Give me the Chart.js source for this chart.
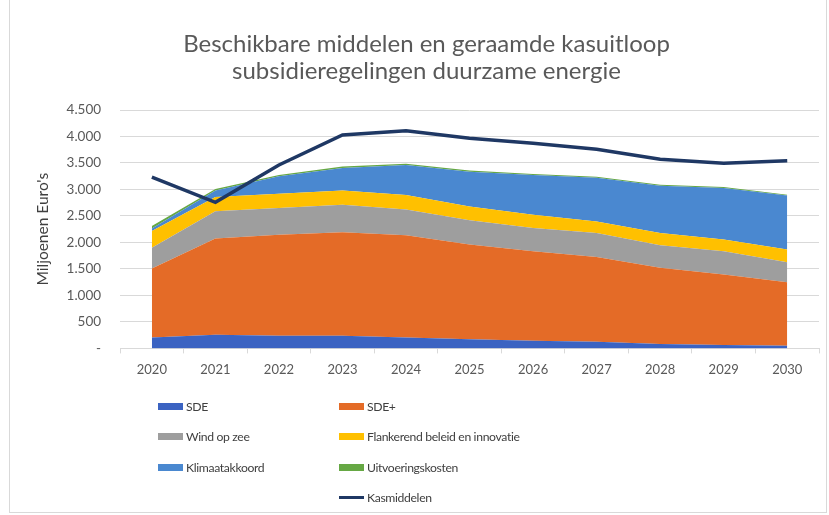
<!DOCTYPE html>
<html>
<head>
<meta charset="utf-8">
<script src="https://cdn.jsdelivr.net/npm/chart.js@4"></script>
<style>
    body { margin: 0; background: #fff; }
    #wrap { position: relative; width: 829px; height: 515px; }
    #kader { position: absolute; left: 9px; top: -1px; width: 818px; height: 514px; border: 1px solid #d9d9d9; box-sizing: border-box; }
    #legenda { position: absolute; left: 0; top: 0; font-family: Lato, sans-serif; font-size: 12.2px; letter-spacing: -0.35px; color: #404040; }
    .item { position: absolute; white-space: nowrap; line-height: 16px; }
    .item span.box { display: inline-block; width: 25px; height: 7px; margin-right: 3px; vertical-align: 1px; }
</style>
</head>
<body>
<div id="wrap">
    <div id="kader"></div>
    <canvas id="grafiek" width="829" height="515"></canvas>
    <div id="legenda"></div>
</div>
<script>
// jaren
const jaren = ['2020', '2021', '2022', '2023', '2024', '2025', '2026', '2027', '2028', '2029', '2030'];

// miljoenen euro's
const sde = [207, 256, 237, 237, 207, 175, 143, 124, 81, 62, 50];
const sdePlus = [1300, 1820, 1910, 1955, 1930, 1785, 1690, 1600, 1440, 1335, 1200];
const windOpZee = [395, 513, 501, 521, 483, 457, 440, 455, 425, 438, 376];
const flankerend = [312, 270, 270, 269, 276, 263, 250, 215, 233, 220, 239];
const klimaatakkoord = [50, 120, 330, 425, 565, 655, 750, 825, 890, 975, 1020];
const uitvoeringskosten = [45, 30, 25, 25, 25, 22, 20, 20, 18, 16, 15];
const kasmiddelen = [3234, 2757, 3463, 4029, 4110, 3967, 3873, 3760, 3572, 3497, 3540];

function vlak(label, data, kleur, fill) {
    return {
        label: label,
        data: data,
        stack: 'middelen',
        backgroundColor: kleur,
        borderColor: kleur,
        borderWidth: 0,
        pointRadius: 0,
        fill: fill,
        tension: 0
    };
}

const datasets = [{
    label: 'Kasmiddelen',
    data: kasmiddelen,
    stack: 'kas',
    borderColor: '#1f3864',
    backgroundColor: '#1f3864',
    borderWidth: 3.5,
    pointRadius: 0,
    fill: false,
    tension: 0
},
    vlak('SDE', sde, '#3b63c2', 'origin'),
    vlak('SDE+', sdePlus, '#e46b27', '-1'),
    vlak('Wind op zee', windOpZee, '#9e9e9e', '-1'),
    vlak('Flankerend beleid en innovatie', flankerend, '#ffc000', '-1'),
    vlak('Klimaatakkoord', klimaatakkoord, '#4a88d0', '-1'),
    vlak('Uitvoeringskosten', uitvoeringskosten, '#66a844', '-1')
];

function formatGetal(v) {
    if (v === 0) return '-';
    return String(v).replace(/\B(?=(\d{3})+(?!\d))/g, '.');
}

const grafiek = new Chart(document.getElementById('grafiek'), {
    type: 'line',
    data: { labels: jaren, datasets: datasets },
    options: {
        responsive: false,
        animation: false,
        layout: { padding: { left: 34, right: 10, top: 0, bottom: 128 } },
        plugins: {
            legend: { display: false },
            tooltip: { enabled: false },
            title: {
                display: true,
                text: ['Beschikbare middelen en geraamde kasuitloop', 'subsidieregelingen duurzame energie'],
                color: '#595959',
                font: { family: 'Lato, sans-serif', size: 24, weight: 'normal', lineHeight: 1.125 },
                padding: { top: 31, bottom: 25 }
            }
        },
        scales: {
            x: {
                offset: true,
                grid: { display: true, offset: true, drawOnChartArea: false, tickLength: 5, color: '#d9d9d9' },
                border: { color: '#d9d9d9' },
                ticks: { color: '#595959', font: { family: 'Lato, sans-serif', size: 13 }, padding: 9 }
            },
            y: {
                stacked: true,
                min: 0,
                max: 4500,
                grid: { color: '#d9d9d9', drawTicks: false },
                border: { display: false },
                ticks: {
                    stepSize: 500,
                    color: '#595959',
                    font: { family: 'Lato, sans-serif', size: 13.5 },
                    padding: 19,
                    callback: function(v) { return formatGetal(v); }
                },
                title: {
                    display: true,
                    text: "Miljoenen Euro's",
                    color: '#404040',
                    font: { family: 'Lato, sans-serif', size: 15.5 },
                    padding: { top: 0, bottom: -5 }
                }
            }
        }
    }
});

// legenda in twee kolommen, zoals in Excel
const legendaPlaats = {
    'SDE': [158, 399],
    'SDE+': [339, 399],
    'Wind op zee': [158, 429],
    'Flankerend beleid en innovatie': [339, 429],
    'Klimaatakkoord': [158, 460],
    'Uitvoeringskosten': [339, 460],
    'Kasmiddelen': [339, 490]
};
let legenda = document.getElementById('legenda');
grafiek.data.datasets.forEach(function(ds) {
    let p = legendaPlaats[ds.label];
    let div = document.createElement('div');
    div.className = 'item';
    div.style.left = p[0] + 'px';
    div.style.top = p[1] + 'px';
    let box = document.createElement('span');
    box.className = 'box';
    box.style.background = ds.borderColor;
    if (ds.label === 'Kasmiddelen') {
        box.style.height = '3px';
        box.style.verticalAlign = '3px';
    }
    div.appendChild(box);
    div.appendChild(document.createTextNode(ds.label));
    legenda.appendChild(div);
});
</script>
</body>
</html>
